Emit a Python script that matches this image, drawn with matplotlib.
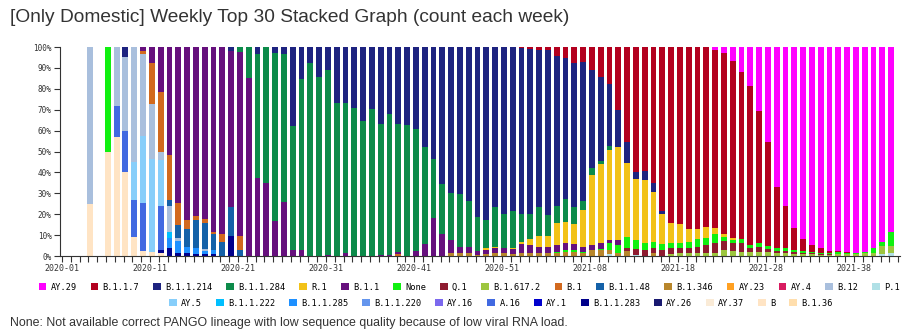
import numpy as np
import matplotlib
matplotlib.use("Agg")
import matplotlib.pyplot as plt
from matplotlib.patches import Patch

# ISO weeks 2020-01 .. 2021-42
weeks = [f"2020-{w:02d}" for w in range(1, 54)] + [f"2021-{w:02d}" for w in range(1, 43)]
N = len(weeks)


def runs(*parts):
    """Weekly shares (%) for one lineage; each part is (first week index, values)."""
    row = [0.0] * N
    for start, vals in parts:
        row[start:start + len(vals)] = vals
    return row


# lineages in legend order (top of the stack first)
lineages = ["AY.29", "B.1.1.7", "B.1.1.214", "B.1.1.284", "R.1", "B.1.1", "None",
            "Q.1", "B.1.617.2", "B.1", "B.1.1.48", "B.1.346", "AY.23", "AY.4",
            "B.12", "P.1", "AY.5", "B.1.1.222", "B.1.1.285", "B.1.1.220", "AY.16",
            "A.16", "AY.1", "B.1.1.283", "AY.26", "AY.37", "B", "B.1.36"]

colors = ["#ff00ff", "#b3001f", "#1e2380", "#0c8b4a", "#f2c218", "#66107d", "#10f010",
          "#8e1b30", "#9dc63f", "#d2691e", "#1461a8", "#b8862b", "#ffa022", "#d81b60",
          "#a9bfdd", "#b0e0e6", "#87cefa", "#00bfff", "#1e90ff", "#6495ed", "#7b68ee",
          "#4169e1", "#0000cd", "#00008b", "#191970", "#faebd7", "#ffe4c4", "#ffdead"]

AY_29 = runs((74, [1.3, 2.7, 6.7, 11.8, 18.6, 30.6, 45.5, 67, 76, 86.7, 92, 94.7, 96.3,
                   97.4, 97.4, 97.9, 98.4, 97.9, 96.3, 93.1, 88.3]))
B_1_1_7 = runs((52, [0.5, 1, 1.2, 1.5, 4.3, 5.4, 7.8, 7, 11, 14.2, 17.9, 30, 45.3, 59.6,
                     59.2, 65.2, 78, 84, 84.7, 87.2, 87.2, 86.3, 84.9, 86.8, 84.8, 80.2,
                     76.1, 63.3, 49.7, 29.3, 20.3, 10.4, 5.4, 3.2, 2.1, 1, 0.5, 0.5]))
B_1_1_214 = runs((7, [5]), (19, [1.8]),
                 (22, [3.4, 0, 3.1, 3.4, 37.8, 15.1, 7.6, 14.3, 10.8, 26.7, 26.6, 29.2,
                       35.2, 29.8, 36.9, 32.1, 37, 37.4, 39.4, 48, 53.8, 65.4, 70, 70.5,
                       73.7, 81.2, 82.8, 76.4, 80.1, 78.3, 80, 79, 75.5, 79.7, 71.8, 67.5,
                       68.6, 66.5, 47.1, 40.2, 29.5, 17.4, 10, 3.7, 4.1, 4, 1.3]))
B_1_1_284 = runs((20, [2.6, 15, 59.3, 65.2, 80.2, 70.6, 59.5, 82.2, 92.4, 85.7, 88.7, 73.3,
                       72.2, 70.8, 64.8, 70.2, 62.6, 67.4, 61, 62.6, 58, 46.2, 27.8, 24.1,
                       22.3, 25, 21.8, 16.2, 13.6, 19.4, 16.2, 18, 13.1, 12.1, 13.7, 9.9,
                       8, 10.7, 8.4, 4.5, 3.1, 1.6, 1.6]))
R_1 = runs((48, [0.6, 0.5, 0, 0.5, 1.2, 2.7, 5.1, 5.4, 10.6, 10.3, 9.5, 17.5, 33.5, 37.9,
                 43.3, 44.6, 35.4, 29, 29.8, 23.9, 14.6, 10, 9, 5.9, 4.8, 5.2, 3.2, 1.6,
                 0.8, 0.3]))
B_1_1 = runs((9, [2, 7.5, 21.4, 51.5, 74.7, 83, 80.8, 82.2, 88.4, 89.4, 74.6, 87.8, 85,
                  37.3, 34.8, 16.7, 26, 2.7, 2.7, 0, 0, 0.5, 0, 1.2, 0, 0, 0, 0.5, 0.5, 1,
                  0, 2.6, 5.8, 18.4, 10.5, 6.4, 3.2, 2.9, 2.1, 2, 2.4, 2.4, 2.2, 4.4, 4,
                  3.2, 3.2, 3.2, 3.2, 2.8, 2.4, 2.4, 2.9, 1.3, 2.3]))
NONE = runs((5, [50]),
            (56, [0.8, 0.8, 0.8, 0.8, 0, 0.5, 3.2, 3.6, 5.6, 4.5, 3.7, 3.2, 2.9, 2, 2.4,
                  3.2, 3.5, 3.2, 3.9, 1.6, 1.6, 1.6, 1.3, 1.6, 1.5, 1.2, 1.3, 1, 1, 0.8,
                  0.6, 0.8, 1, 0.8, 0.6, 0.8, 2.4, 2.1, 6.9]))
Q_1 = runs((64, [1.3, 2.7, 2.7, 2.4, 2.7, 2.9, 2.4, 2.4, 3, 4, 4.9, 4.4, 3.5, 4.3, 2.2,
                 2.5, 1.5, 1, 1, 0.8, 0.6, 0.5, 0.5, 0.3]))
B_1_617_2 = runs((69, [1.1, 1.5, 1.3, 1.5, 1.3, 1.5, 2.9, 2.6, 2.1, 1.8, 2, 1.8, 1.5, 1.4,
                       1.1, 1, 0.8, 0.5, 0.5, 1.1, 0.8, 1, 1.3, 1.3, 3.8, 3.2]))
B_1 = runs((9, [1.5, 20, 28.5, 21.5, 10.4, 4.2, 2.2, 2.1, 1, 3.7, 0, 6.7]), (38, [1]))
B_1_1_48 = runs((12, [3.3, 6.4, 8.3, 13.3, 12.3, 7.7, 6.9, 14.2, 2.9]))
B_1_346 = runs((44, [1.3, 1.3, 1.6, 0.5, 1, 1.3, 1.3, 1, 1.3, 1.3, 1.3, 1.3, 1.3, 2.1,
                     2.1, 1.3, 2.9, 2.7, 1.9, 1.6, 2.4, 0, 0, 1.3]))
AY_23 = runs()
AY_4 = runs()
B_12 = runs((3, [75, 0, 0, 28, 35, 55, 39, 26, 4, 12, 1, 0, 0, 1]))
P_1 = runs((62, [1.1, 0, 0, 0.5]), (93, [1, 1.6]))
AY_5 = runs((8, [18, 32, 44.5, 21.5]))
B_1_1_222 = runs((12, [3]))
B_1_1_285 = runs((12, [5, 5.8, 2.9, 2.7, 1.5, 1.9]))
B_1_1_220 = runs()
AY_16 = runs()
A_16 = runs((6, [15, 20, 18, 23, 0, 21]))
AY_1 = runs()
B_1_1_283 = runs((11, [1.5, 3.7, 1.6, 1.6, 1, 1, 1, 0, 9.4]))
AY_26 = runs()
AY_37 = runs()
B = runs((3, [25, 0, 50, 57, 40, 9, 2.5, 2, 1.5]))
B_1_36 = runs()

series = [AY_29, B_1_1_7, B_1_1_214, B_1_1_284, R_1, B_1_1, NONE, Q_1, B_1_617_2, B_1,
          B_1_1_48, B_1_346, AY_23, AY_4, B_12, P_1, AY_5, B_1_1_222, B_1_1_285,
          B_1_1_220, AY_16, A_16, AY_1, B_1_1_283, AY_26, AY_37, B, B_1_36]

data = np.array(series, dtype=float)
totals = data.sum(axis=0)
share = np.divide(data * 100, totals, out=np.zeros_like(data), where=totals > 0)

fig = plt.figure(figsize=(9.06, 3.32), dpi=100)
ax = fig.add_axes([60 / 906, 1 - 256 / 332, 840 / 906, 209 / 332])

x = np.arange(N)
bottom = np.zeros(N)
# stack from the last lineage up so the legend reads top-down
for vals, c in zip(share[::-1], colors[::-1]):
    ax.bar(x + 0.2, vals, width=0.66, bottom=bottom, color=c, linewidth=0)
    bottom += vals

ax.set_xlim(-0.23, 95.2)
ax.set_ylim(0, 100)
ax.set_xticks(np.arange(96))
ax.set_xticklabels([weeks[i] if i < N and i % 10 == 0 else "" for i in range(96)])
ax.set_yticks(np.arange(0, 101, 10))
ax.set_yticklabels([f"{v}%" for v in range(0, 101, 10)])
ax.tick_params(axis="x", length=4, width=0.8, pad=2, labelsize=6, color="#333333")
ax.tick_params(axis="y", length=4, width=0.8, pad=2, labelsize=5.5, color="#333333")
for lab in ax.get_xticklabels() + ax.get_yticklabels():
    lab.set_family("DejaVu Sans Mono")
    lab.set_color("#333333")
for side in ["top", "right"]:
    ax.spines[side].set_visible(False)
for side in ["left", "bottom"]:
    ax.spines[side].set_color("#333333")
    ax.spines[side].set_linewidth(0.8)

handles = [Patch(facecolor=c, edgecolor="none", label=l) for l, c in zip(lineages, colors)]
legend_kw = dict(frameon=False, handlelength=0.9, handleheight=0.9, handletextpad=0.5,
                 columnspacing=1.6, borderpad=0, borderaxespad=0,
                 prop={"family": "DejaVu Sans Mono", "size": 6.2})
fig.legend(handles=handles[:16], ncol=16, loc="center",
           bbox_to_anchor=(0.518, 1 - 287 / 332), **legend_kw)
fig.legend(handles=handles[16:], ncol=12, loc="center",
           bbox_to_anchor=(0.553, 1 - 303 / 332), **legend_kw)

fig.text(10 / 906, 1 - 18 / 332,
         "[Only Domestic] Weekly Top 30 Stacked Graph (count each week)",
         fontsize=13.8, family="Liberation Sans", color="#333333", va="center")
fig.text(10 / 906, 1 - 323 / 332,
         "None: Not available correct PANGO lineage with low sequence quality because of low viral RNA load.",
         fontsize=8.9, family="Liberation Sans", color="#333333", va="center")

fig.savefig("out.png", dpi=100, facecolor="white")
